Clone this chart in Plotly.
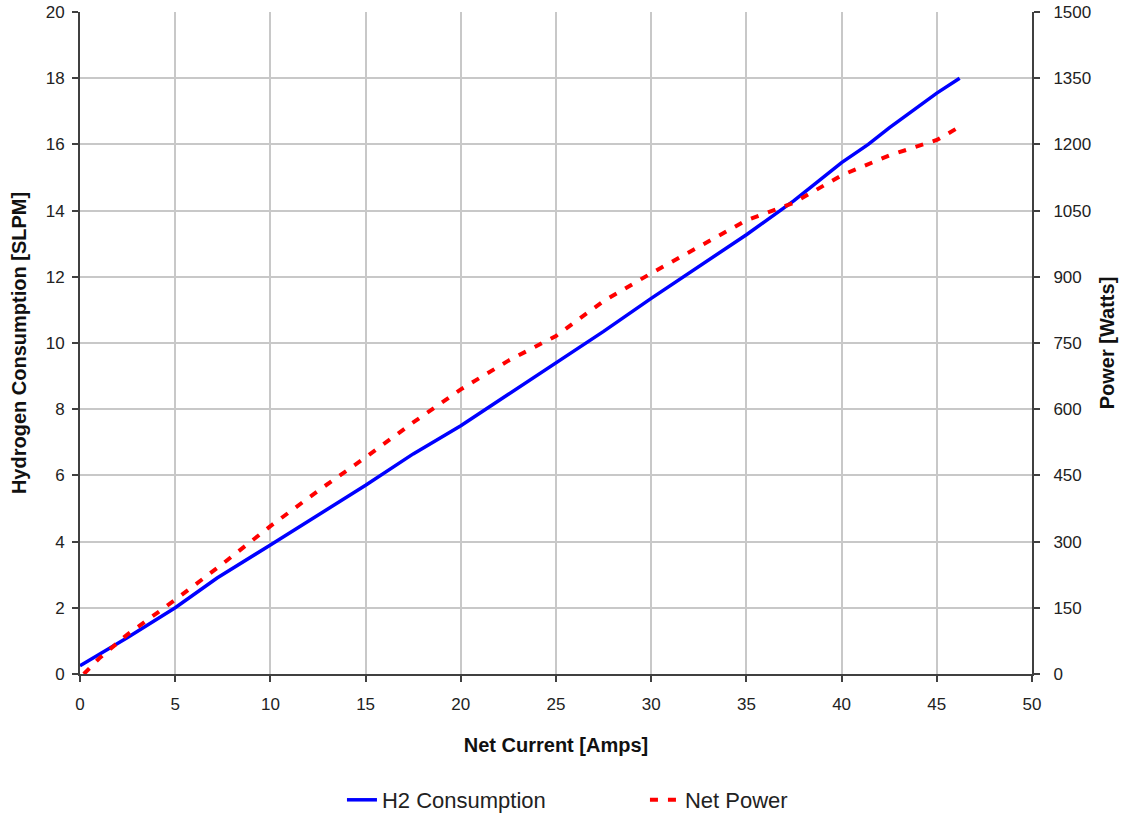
import plotly.graph_objects as go

# H2 consumption (SLPM) vs net current (A)
h2_current = [0, 2.5, 5, 7.2, 10, 12.5, 15, 17.5, 20, 22.5, 25, 27.5, 30, 32.5, 35, 37.5, 40, 41.4, 42.5, 45, 46.2]
h2_slpm = [0.25, 1.1, 2.0, 2.9, 3.9, 4.8, 5.7, 6.65, 7.5, 8.45, 9.4, 10.35, 11.35, 12.3, 13.27, 14.3, 15.45, 16.0, 16.5, 17.55, 18.0]

# Net power (W) vs net current (A)
pw_current = [0.2, 1, 2.5, 5, 7.5, 10, 12.5, 15, 17.5, 20, 22.5, 25, 27.5, 30, 32.5, 35, 37.5, 40, 42.5, 45, 46.2]
pw_watts = [0, 35, 90, 168, 250, 335, 415, 491, 570, 645, 710, 766, 845, 908, 968, 1028, 1068, 1130, 1175, 1210, 1240]

x_ticks = list(range(0, 51, 5))
y_ticks = list(range(0, 21, 2))
y2_ticks = list(range(0, 1501, 150))

font_family = "Liberation Sans, Arial, sans-serif"
axis_col = "#404040"
grid_col = "#c8c8c8"
title_size = 20
tick_size = 17

fig = go.Figure()
fig.add_trace(go.Scatter(
    x=h2_current, y=h2_slpm, mode="lines", name="H2 Consumption",
    line=dict(color="#0000ff", width=3.5), yaxis="y"))
fig.add_trace(go.Scatter(
    x=pw_current, y=pw_watts, mode="lines", name="Net Power",
    line=dict(color="#ff0000", width=4, dash="8px,10px"), yaxis="y2"))

fig.update_layout(
    width=1123, height=814,
    paper_bgcolor="white", plot_bgcolor="white",
    margin=dict(l=80, r=91, t=12, b=140),
    font=dict(family=font_family, size=tick_size, color="#222222"),
    xaxis=dict(
        range=[0, 50], tickvals=x_ticks, ticks="outside", ticklen=6, tickwidth=2,
        tickcolor=axis_col, showline=True, linecolor=axis_col, linewidth=2,
        showgrid=True, gridcolor=grid_col, gridwidth=1.5, zeroline=False,
        automargin=False, ticklabelstandoff=8, ticklabeloverflow="allow",
        title=dict(text="<b>Net Current [Amps]</b>", font=dict(size=title_size, color="#111111"), standoff=25),
        tickfont=dict(size=tick_size),
    ),
    yaxis=dict(
        range=[0, 20], tickvals=y_ticks, ticks="outside", ticklen=6, tickwidth=2,
        tickcolor=axis_col, showline=True, linecolor=axis_col, linewidth=2,
        showgrid=True, gridcolor=grid_col, gridwidth=1.5, zeroline=False,
        automargin=False, ticklabelstandoff=4, ticklabeloverflow="allow",
        title=dict(text="<b>Hydrogen Consumption [SLPM]</b>", font=dict(size=title_size, color="#111111"), standoff=14),
        tickfont=dict(size=tick_size),
    ),
    yaxis2=dict(
        range=[0, 1500], tickvals=y2_ticks, overlaying="y", side="right",
        ticks="outside", ticklen=6, tickwidth=2, tickcolor=axis_col,
        showline=True, linecolor=axis_col, linewidth=2, showgrid=False, zeroline=False,
        automargin=False, ticklabelstandoff=10, ticklabeloverflow="allow",
        title=dict(text="<b>Power [Watts]</b>", font=dict(size=title_size, color="#111111"), standoff=10),
        tickfont=dict(size=tick_size),
    ),
    legend=dict(
        orientation="h", xref="container", yref="container",
        x=0.3045, xanchor="left", y=0.0172, yanchor="middle",
        font=dict(size=22, color="#222222"), bgcolor="rgba(0,0,0,0)",
        entrywidth=258, entrywidthmode="pixels", traceorder="normal",
    ),
)

fig.write_html("out.html", config={"displayModeBar": False},
               post_script="document.body.style.margin='0';")
